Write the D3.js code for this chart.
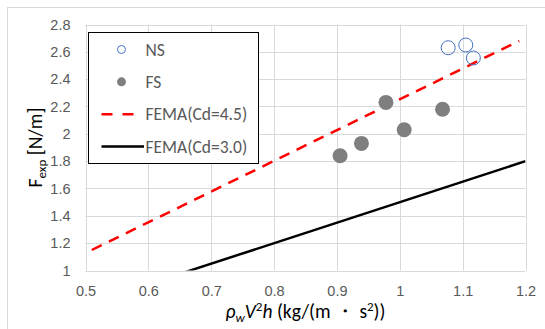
<!DOCTYPE html>
<html>
<head>
<meta charset="utf-8">
<script src="https://cdn.jsdelivr.net/npm/d3@7"></script>
<style>
  body { margin: 0; background: #fff; }
  svg { display: block; font-family: Calibri, Carlito, Lato, sans-serif; }
</style>
</head>
<body>
<svg id="chart" width="545" height="329"></svg>
<script>
// data
const nsX = [1.077, 1.105, 1.117];
const nsY = [2.63, 2.65, 2.555];
const fsX = [0.905, 0.939, 0.978, 1.007, 1.068];
const fsY = [1.84, 1.93, 2.23, 2.03, 2.18];
const fema45X = [0.51, 1.19];
const fema45Y = [1.15, 2.68];
const fema30X = [0.5, 1.2];
const fema30Y = [0.75, 1.8];
const xTicks = [0.5, 0.6, 0.7, 0.8, 0.9, 1, 1.1, 1.2];
const yTicks = [1, 1.2, 1.4, 1.6, 1.8, 2, 2.2, 2.4, 2.6, 2.8];
const legendLabels = ['NS', 'FS', 'FEMA(Cd=4.5)', 'FEMA(Cd=3.0)'];

const svg = d3.select('#chart');
const textColor = '#595959';
const gridColor = '#d9d9d9';

// outer chart frame
svg.append('rect')
  .attr('x', 7.5).attr('y', 7.5)
  .attr('width', 560).attr('height', 340)
  .style('fill', 'none').style('stroke', gridColor);

const plot = {left: 85.5, right: 525.5, top: 24.5, bottom: 270.5};

const x = d3.scaleLinear().domain([0.5, 1.2]).range([plot.left, plot.right]);
const y = d3.scaleLinear().domain([1, 2.8]).range([plot.bottom, plot.top]);

// grid
const grid = svg.append('g').attr('class', 'grid');
grid.selectAll('.vgrid')
  .data(xTicks)
  .enter()
  .append('line')
  .attr('x1', d => Math.round(x(d)) + 0.5).attr('x2', d => Math.round(x(d)) + 0.5)
  .attr('y1', plot.top).attr('y2', plot.bottom)
  .style('stroke', gridColor);
grid.selectAll('.hgrid')
  .data(yTicks)
  .enter()
  .append('line')
  .attr('x1', plot.left).attr('x2', plot.right)
  .attr('y1', d => Math.round(y(d)) + 0.5).attr('y2', d => Math.round(y(d)) + 0.5)
  .style('stroke', gridColor);

// axes (labels only, Excel style)
const xAxis = svg.append('g')
  .attr('transform', 'translate(0,' + (plot.bottom + 12) + ')')
  .call(d3.axisBottom(x).tickValues(xTicks).tickSize(0).tickFormat(d3.format('')));
xAxis.select('.domain').remove();
xAxis.selectAll('text')
  .attr('dy', '0.71em')
  .style('font-size', '14.5px')
  .style('fill', textColor);

const yAxis = svg.append('g')
  .attr('transform', 'translate(' + (plot.left - 15) + ',0)')
  .call(d3.axisLeft(y).tickValues(yTicks).tickSize(0).tickFormat(d3.format('')));
yAxis.select('.domain').remove();
yAxis.selectAll('text')
  .attr('x', 0)
  .style('font-size', '14.5px')
  .style('fill', textColor);

// clip for lines
svg.append('clipPath').attr('id', 'plotClip')
  .append('rect')
  .attr('x', plot.left).attr('y', plot.top)
  .attr('width', plot.right - plot.left).attr('height', plot.bottom - plot.top);

const line = d3.line().x(d => x(d[0])).y(d => y(d[1]));

svg.append('path')
  .datum(d3.zip(fema30X, fema30Y))
  .attr('d', line)
  .attr('clip-path', 'url(#plotClip)')
  .style('fill', 'none').style('stroke', '#000').style('stroke-width', 2.5);

svg.append('path')
  .datum(d3.zip(fema45X, fema45Y))
  .attr('d', line)
  .attr('clip-path', 'url(#plotClip)')
  .style('fill', 'none').style('stroke', '#ff0000').style('stroke-width', 2.5)
  .style('stroke-dasharray', '11,8');

// FS points
svg.selectAll('.fs')
  .data(d3.zip(fsX, fsY))
  .enter()
  .append('circle')
  .attr('class', 'fs')
  .attr('cx', d => x(d[0])).attr('cy', d => y(d[1]))
  .attr('r', 7.5)
  .style('fill', '#7f7f7f');

// NS points
svg.selectAll('.ns')
  .data(d3.zip(nsX, nsY))
  .enter()
  .append('circle')
  .attr('class', 'ns')
  .attr('cx', d => x(d[0])).attr('cy', d => y(d[1]))
  .attr('r', 7)
  .style('fill', 'none').style('stroke', '#4472c4').style('stroke-width', 1);

// legend
const legend = svg.append('g').attr('class', 'legend');
legend.append('rect')
  .attr('x', 88.5).attr('y', 32.5)
  .attr('width', 170).attr('height', 131)
  .style('fill', '#fff').style('stroke', '#000').style('stroke-width', 1);

const legendY = d3.scalePoint().domain(legendLabels).range([49.5, 146.5]);

legend.append('circle')
  .attr('cx', 121.5).attr('cy', legendY('NS')).attr('r', 4)
  .style('fill', 'none').style('stroke', '#4472c4');
legend.append('circle')
  .attr('cx', 121.5).attr('cy', legendY('FS')).attr('r', 4.5)
  .style('fill', '#7f7f7f');
legend.append('line')
  .attr('x1', 101.5).attr('x2', 136)
  .attr('y1', legendY('FEMA(Cd=4.5)')).attr('y2', legendY('FEMA(Cd=4.5)'))
  .style('stroke', '#ff0000').style('stroke-width', 2.5).style('stroke-dasharray', '11,10');
legend.append('line')
  .attr('x1', 101.5).attr('x2', 144)
  .attr('y1', legendY('FEMA(Cd=3.0)')).attr('y2', legendY('FEMA(Cd=3.0)'))
  .style('stroke', '#000').style('stroke-width', 2.5);

legend.selectAll('.legend-label')
  .data(legendLabels)
  .enter()
  .append('text')
  .attr('class', 'legend-label')
  .attr('x', 145.5)
  .attr('y', d => legendY(d))
  .attr('dy', '0.36em')
  .style('font-size', '17.5px')
  .style('fill', textColor)
  .text(d => d);

// axis titles
const xTitle = svg.append('text')
  .attr('x', (plot.left + plot.right) / 2)
  .attr('y', 318)
  .attr('text-anchor', 'middle')
  .style('font-size', '19.5px')
  .style('fill', '#000');
xTitle.append('tspan').style('font-style', 'italic').text('ρ');
xTitle.append('tspan').style('font-style', 'italic').style('font-size', '13px').attr('dy', 4).text('w');
xTitle.append('tspan').style('font-style', 'italic').attr('dy', -4).text('V');
xTitle.append('tspan').style('font-size', '13px').attr('dy', -7).text('2');
xTitle.append('tspan').style('font-style', 'italic').attr('dy', 7).text('h');
xTitle.append('tspan').text(' (kg/(m ・ s');
xTitle.append('tspan').style('font-size', '13px').attr('dy', -7).text('2');
xTitle.append('tspan').attr('dy', 7).text('))');

const yTitle = svg.append('text')
  .attr('transform', 'translate(42,' + (plot.top + plot.bottom) / 2 + ') rotate(-90)')
  .attr('text-anchor', 'middle')
  .style('font-size', '19.5px')
  .style('fill', '#000');
yTitle.append('tspan').text('F');
yTitle.append('tspan').style('font-size', '13px').attr('dy', 4).text('exp');
yTitle.append('tspan').attr('dy', -4).text(' [N/m]');
</script>
</body>
</html>
